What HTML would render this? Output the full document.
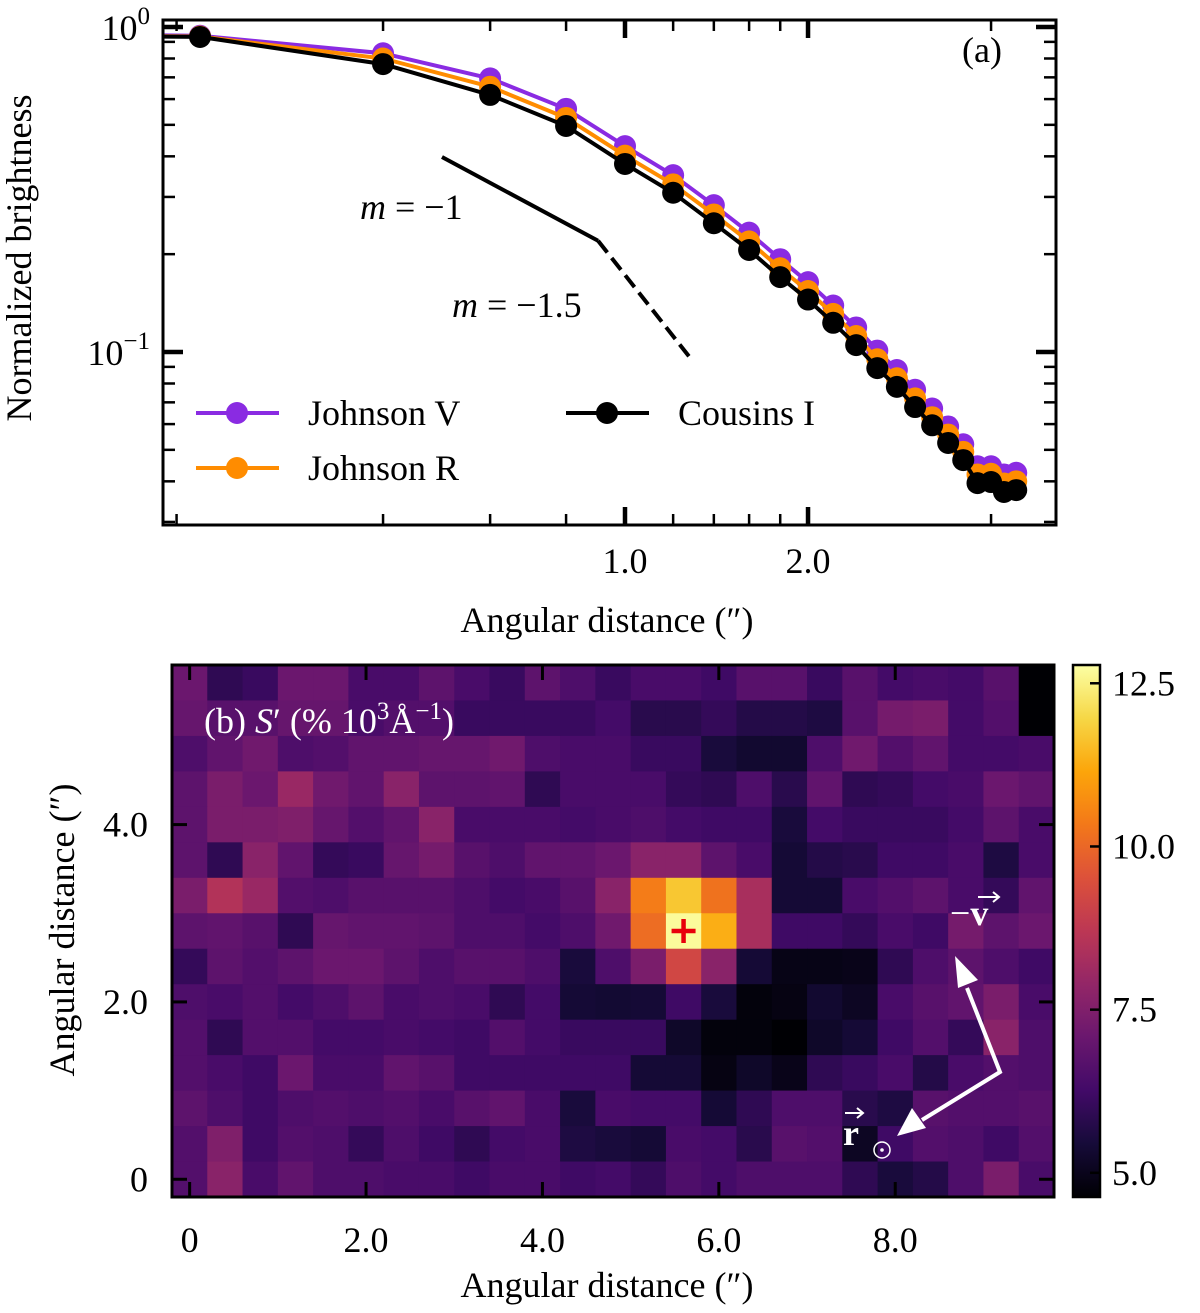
<!DOCTYPE html>
<html><head><meta charset="utf-8">
<style>
html,body{margin:0;padding:0;background:#fff;}
svg{display:block;font-family:"Liberation Serif",serif;}
</style></head>
<body>
<svg id="fig" width="1200" height="1313" viewBox="0 0 1200 1313" xmlns="http://www.w3.org/2000/svg">
<defs>
<clipPath id="clipA"><rect x="163" y="20" width="893" height="505"/></clipPath>
<linearGradient id="cbgrad" x1="0" y1="1" x2="0" y2="0"></linearGradient>
</defs>
<g id="panelA"></g>
<g id="panelB"></g>
</svg>
<script>
// ---------- Panel (a) data ----------
const distances = [0.1,0.2,0.4,0.6,0.8,1.0,1.2,1.4,1.6,1.8,2.0,2.2,2.4,2.6,2.8,3.0,3.2,3.4,3.6,3.8,4.0,4.2,4.4];
const johnsonV = [0.95,0.94,0.83,0.695,0.56,0.43,0.35,0.283,0.233,0.193,0.164,0.139,0.119,0.101,0.088,0.0765,0.067,0.059,0.052,0.0445,0.0445,0.042,0.0425];
const johnsonR = [0.945,0.935,0.80,0.655,0.525,0.402,0.328,0.265,0.219,0.181,0.154,0.131,0.112,0.095,0.083,0.072,0.063,0.0557,0.0493,0.042,0.0422,0.0394,0.04];
const cousinsI = [0.94,0.932,0.769,0.618,0.496,0.379,0.309,0.249,0.206,0.170,0.145,0.123,0.105,0.0892,0.0781,0.0677,0.0595,0.0525,0.0465,0.0395,0.0398,0.0371,0.0376];
const xMinorTicksA = [0.183,0.4,0.6,0.8,1.2,1.4,1.6,1.8,4.0];
const xMajorTicksA = [1.0,2.0];
const xMajorLabelsA = ["1.0","2.0"];
const yMajorTicksA = [1,0.1];
const yMinorTicksA = [0.9,0.8,0.7,0.6,0.5,0.4,0.3,0.2,0.09,0.08,0.07,0.06,0.05,0.04,0.03];
const slopeSolid = [[0.5,0.398],[0.903,0.22]];
const slopeDashed = [[0.903,0.22],[1.274,0.097]];

// ---------- Panel (b) data ----------
const heatXTicks = [0,2,4,6,8];
const heatXLabels = ["0","2.0","4.0","6.0","8.0"];
const heatYTicks = [0,2,4];
const heatYLabels = ["0","2.0","4.0"];
const cbTicks = [5.0,7.5,10.0,12.5];
const cbLabels = ["5.0","7.5","10.0","12.5"];
// rows from top (y=5.6) to bottom (y=0), 25 columns (x=0..9.6)
const heatRows = [
[7.1,5.9,6.1,7.1,7.1,6.4,6.4,6.8,6.4,6.1,6.8,6.5,6.1,6.4,6.4,6.2,6.7,6.7,6.1,6.7,6.3,6.4,6.3,6.7,4.6],
[7.0,6.7,6.7,7.0,7.0,6.4,6.6,6.6,6.1,6.1,6.1,6.1,6.3,5.8,5.8,6.0,5.7,5.7,5.6,6.7,7.3,7.4,6.3,6.6,4.6],
[6.5,6.9,7.2,6.5,6.6,6.9,6.9,7.0,7.0,7.2,6.5,6.4,6.4,6.1,6.1,5.5,5.3,5.3,6.5,7.2,6.6,6.9,6.3,6.3,6.4],
[6.8,7.4,7.1,8.0,7.2,6.9,7.7,6.8,6.8,6.9,5.9,6.4,6.4,6.4,6.0,5.9,6.5,5.8,6.9,5.9,6.0,6.3,6.4,7.1,6.9],
[6.8,7.4,7.4,7.5,7.0,6.6,6.9,7.7,6.4,6.4,6.4,6.3,6.4,6.5,6.3,6.2,6.2,5.5,6.3,6.1,6.1,6.1,6.3,6.8,6.4],
[6.8,5.9,7.7,6.9,6.0,6.1,7.0,7.3,6.7,6.5,6.9,6.9,7.1,7.7,7.7,6.8,6.4,5.4,5.7,5.8,6.2,6.2,6.4,5.6,6.4],
[7.4,8.5,8.0,6.6,6.5,6.7,6.7,6.7,6.5,6.3,6.4,6.7,7.7,10.4,11.7,10.2,8.3,5.4,5.4,6.4,6.6,6.8,6.4,6.0,6.9],
[6.8,6.9,6.7,5.9,7.0,6.9,6.9,6.8,6.5,6.5,6.3,6.5,7.2,10.1,12.7,11.3,8.3,6.2,6.2,6.0,6.4,6.2,7.3,6.8,7.1],
[6.0,6.8,6.6,6.8,7.1,7.1,6.8,6.5,6.7,6.7,6.5,5.5,6.5,7.4,9.2,7.7,5.4,4.9,4.9,4.95,5.9,6.5,6.8,6.5,6.2],
[6.5,6.4,6.6,6.3,6.5,6.8,6.4,6.5,6.4,5.9,6.3,5.4,5.35,5.4,6.2,5.5,4.75,4.85,5.3,5.1,6.4,6.7,6.9,7.4,6.4],
[6.6,5.9,6.6,6.6,6.3,6.3,6.4,6.3,6.2,6.6,6.3,6.1,6.1,6.1,5.2,4.75,4.75,4.6,5.2,5.4,6.2,6.6,6.0,7.7,6.5],
[6.6,6.4,6.2,7.1,6.4,6.4,6.9,6.7,6.2,6.2,6.2,6.2,6.2,5.4,5.4,4.85,5.2,4.95,5.9,6.1,6.4,5.7,6.4,6.6,6.5],
[6.8,6.5,6.2,6.5,6.6,6.5,6.6,6.4,6.7,6.9,6.4,5.5,6.4,6.3,6.3,5.4,5.9,6.5,6.5,5.8,5.6,6.7,6.6,6.6,6.7],
[6.6,7.5,6.2,6.6,6.5,6.0,6.5,6.2,5.9,6.3,6.4,5.6,5.5,5.4,6.4,6.3,5.8,6.7,6.6,5.1,6.2,6.6,6.5,6.2,6.6],
[6.6,7.7,6.4,6.9,6.5,6.5,6.4,6.4,6.2,6.4,6.4,6.2,6.3,6.0,6.5,6.3,6.5,6.5,6.5,5.9,5.5,5.7,6.5,7.4,6.4]
];
const peakMarker = [5.6,2.8];

const NS="http://www.w3.org/2000/svg";
function mk(tag, attrs, parent){const e=document.createElementNS(NS,tag);for(const k in attrs)e.setAttribute(k,attrs[k]);parent.appendChild(e);return e;}
const A=document.getElementById('panelA');
const B=document.getElementById('panelB');

const xa=d=>625+608*Math.log10(d);
const ya=v=>27-325*Math.log10(v);

const clipG=mk('g',{'clip-path':'url(#clipA)'},A);


const series=[{n:'johnson-v',c:'#8a2be2',v:johnsonV},{n:'johnson-r',c:'#ff8c00',v:johnsonR},{n:'cousins-i',c:'#000000',v:cousinsI}];
series.forEach(s=>{
  const g=mk('g',{},clipG);
  
  
  const pts=distances.map((d,i)=>xa(d).toFixed(1)+','+ya(s.v[i]).toFixed(1)).join(' ');
  const pl=mk('polyline',{points:pts,fill:'none',stroke:s.c,'stroke-width':4,'stroke-linejoin':'round'},g);
  
  
  distances.forEach((d,i)=>{
    const c=mk('circle',{cx:xa(d),cy:ya(s.v[i]),r:11,fill:s.c},g);
    
    
  });
});
const gl1=mk('line',{x1:xa(slopeSolid[0][0]),y1:ya(slopeSolid[0][1]),x2:xa(slopeSolid[1][0]),y2:ya(slopeSolid[1][1]),stroke:'#000','stroke-width':4},A);


const gl2=mk('line',{x1:xa(slopeDashed[0][0]),y1:ya(slopeDashed[0][1]),x2:xa(slopeDashed[1][0]),y2:ya(slopeDashed[1][1]),stroke:'#000','stroke-width':4,'stroke-dasharray':'15,7'},A);


function txt(parent,x,y,s,attrs,name){const t=mk('text',Object.assign({x:x,y:y,'font-size':36,fill:'#000'},attrs||{}),parent);t.innerHTML=s;return t;}
txt(A,360,219,'<tspan font-style="italic">m</tspan> = −1',{},'slope-m1-label');
txt(A,452,317,'<tspan font-style="italic">m</tspan> = −1.5',{},'slope-m15-label');
txt(A,962,62,'(a)',{},'panel-a-label');

const fa=mk('rect',{x:163,y:20,width:893,height:505,fill:'none',stroke:'#000','stroke-width':3},A);


xMinorTicksA.forEach(d=>{const x=xa(d);
  const t1=mk('line',{x1:x,y1:525,x2:x,y2:514,stroke:'#000','stroke-width':2.5},A);
  
  const t2=mk('line',{x1:x,y1:20,x2:x,y2:31,stroke:'#000','stroke-width':2.5},A);
  });
xMajorTicksA.forEach((d,i)=>{const x=xa(d);
  const t1=mk('line',{x1:x,y1:525,x2:x,y2:507,stroke:'#000','stroke-width':4.5},A);
  
  const t2=mk('line',{x1:x,y1:20,x2:x,y2:38,stroke:'#000','stroke-width':4.5},A);
  
  txt(A,x,573,xMajorLabelsA[i],{'text-anchor':'middle'},'x-tick-label');});
yMinorTicksA.forEach(v=>{const y=ya(v); if(y>525)return;
  const t1=mk('line',{x1:163,y1:y,x2:175,y2:y,stroke:'#000','stroke-width':2.5},A);
  
  const t2=mk('line',{x1:1056,y1:y,x2:1044,y2:y,stroke:'#000','stroke-width':2.5},A);
  });
yMajorTicksA.forEach(v=>{const y=ya(v);
  const t1=mk('line',{x1:163,y1:y,x2:183,y2:y,stroke:'#000','stroke-width':4.5},A);
  
  const t2=mk('line',{x1:1056,y1:y,x2:1036,y2:y,stroke:'#000','stroke-width':4.5},A);
  });
txt(A,150,ya(1)+13,'10<tspan dy="-16" font-size="25">0</tspan>',{'text-anchor':'end'},'y-tick-label');
txt(A,150,ya(0.1)+13,'10<tspan dy="-16" font-size="25">−1</tspan>',{'text-anchor':'end'},'y-tick-label');
txt(A,607,632,'Angular distance (″)',{'text-anchor':'middle'},'x-axis-title-a');
txt(A,0,0,'Normalized brightness',{'text-anchor':'middle',transform:'translate(31,258) rotate(-90)'},'y-axis-title-a');

const lg=mk('g',{},A);


[[196,413,'#8a2be2','Johnson V'],[196,468,'#ff8c00','Johnson R'],[566,413,'#000','Cousins I']].forEach(e=>{
  const g=mk('g',{},lg);
  
  
  mk('line',{x1:e[0],y1:e[1],x2:e[0]+83,y2:e[1],stroke:e[2],'stroke-width':4},g);
  mk('circle',{cx:e[0]+41,cy:e[1],r:11,fill:e[2]},g);
  txt(g,e[0]+112,e[1]+12,e[3],{},'legend-label');
});

// ---------- Panel (b) ----------
const vmin=4.63, vmax=12.78;
const stops=['#000004','#160b39','#420a68','#6a176e','#932667','#bc3754','#dd513a','#f37819','#fca50a','#f6d746','#fcffa4'];
function hex2rgb(h){return [parseInt(h.substr(1,2),16),parseInt(h.substr(3,2),16),parseInt(h.substr(5,2),16)];}
function cmap(v){let t=(v-vmin)/(vmax-vmin);t=Math.max(0,Math.min(1,t));const p=t*10;const i=Math.min(9,Math.floor(p));const f=p-i;const a=hex2rgb(stops[i]),b=hex2rgb(stops[i+1]);return 'rgb('+a.map((c,k)=>Math.round(c+(b[k]-c)*f)).join(',')+')';}
const xh=v=>172+(v+0.2)*88.2;
const yh=v=>1197-(v+0.2)*88.67;
const cellG=mk('g',{},B);


heatRows.forEach((row,r)=>{const yc=5.6-0.4*r;
  row.forEach((val,c)=>{const xc=0.4*c;
    const rc=mk('rect',{x:xh(xc-0.2),y:yh(yc+0.2),width:xh(xc+0.2)-xh(xc-0.2)+0.6,height:yh(yc-0.2)-yh(yc+0.2)+0.6,fill:cmap(val)},cellG);
    
    
  });});
const fb=mk('rect',{x:172,y:665,width:882,height:532,fill:'none',stroke:'#000','stroke-width':3},B);


heatXTicks.forEach((v,i)=>{const x=xh(v);
  const t1=mk('line',{x1:x,y1:1197,x2:x,y2:1182,stroke:'#000','stroke-width':3},B);
  
  const t2=mk('line',{x1:x,y1:665,x2:x,y2:680,stroke:'#000','stroke-width':3},B);
  
  txt(B,x,1252,heatXLabels[i],{'text-anchor':'middle'},'heat-x-tick-label');});
heatYTicks.forEach((v,i)=>{const y=yh(v);
  const t1=mk('line',{x1:172,y1:y,x2:187,y2:y,stroke:'#000','stroke-width':3},B);
  
  const t2=mk('line',{x1:1054,y1:y,x2:1039,y2:y,stroke:'#000','stroke-width':3},B);
  
  txt(B,148,y+12,heatYLabels[i],{'text-anchor':'end'},'heat-y-tick-label');});
txt(B,607,1297,'Angular distance (″)',{'text-anchor':'middle'},'x-axis-title-b');
txt(B,0,0,'Angular distance (″)',{'text-anchor':'middle',transform:'translate(74,930) rotate(-90)'},'y-axis-title-b');
txt(B,204,733,'(b) <tspan font-style="italic">S</tspan>′ (% 10<tspan dy="-14" font-size="25">3</tspan><tspan dy="14">Å</tspan><tspan dy="-14" font-size="25">−1</tspan><tspan dy="14">)</tspan>',{fill:'#fff'},'panel-b-label');
const px=xh(peakMarker[0]),py=yh(peakMarker[1]);
const pm=mk('path',{d:`M${px-12},${py} H${px+12} M${px},${py-12} V${py+12}`,stroke:'#e8000b','stroke-width':4.5},B);


// arrows
const ag=mk('g',{},B);


mk('polyline',{points:'967,988 1000,1072 922,1120',fill:'none',stroke:'#fff','stroke-width':4,'stroke-linejoin':'miter'},ag);
mk('polygon',{points:'955,956 978,980 958,988',fill:'#fff'},ag);
mk('polygon',{points:'897,1136 912,1108 926,1128',fill:'#fff'},ag);
txt(B,950,925,'−<tspan font-weight="bold">v</tspan>',{fill:'#fff'},'velocity-label');
mk('path',{d:'M978,897 H998 M993,892 L999,897 L993,902',stroke:'#fff','stroke-width':2,fill:'none'},B);
txt(B,843,1145,'<tspan font-weight="bold">r</tspan>',{fill:'#fff'},'sun-vector-label');
mk('path',{d:'M845,1113 H862 M857,1108 L863,1113 L857,1118',stroke:'#fff','stroke-width':2,fill:'none'},B);
mk('circle',{cx:882,cy:1150,r:8,fill:'none',stroke:'#fff','stroke-width':1.5},B);
mk('circle',{cx:882,cy:1150,r:1.8,fill:'#fff'},B);

// colorbar
const grad=document.getElementById('cbgrad');
for(let i=0;i<=20;i++){const v=vmin+(vmax-vmin)*i/20;mk('stop',{offset:(i/20),'stop-color':cmap(v)},grad);}
const cb=mk('rect',{x:1073,y:665,width:27,height:532,fill:'url(#cbgrad)',stroke:'#000','stroke-width':2.5},B);


const cy=v=>1197-(v-vmin)/(vmax-vmin)*532;
cbTicks.forEach((v,i)=>{const y=cy(v);
  const t=mk('line',{x1:1100,y1:y,x2:1090,y2:y,stroke:'#000','stroke-width':2.5},B);
  
  txt(B,1112,y+12,cbLabels[i],{},'colorbar-tick-label');});
</script>
</body></html>
